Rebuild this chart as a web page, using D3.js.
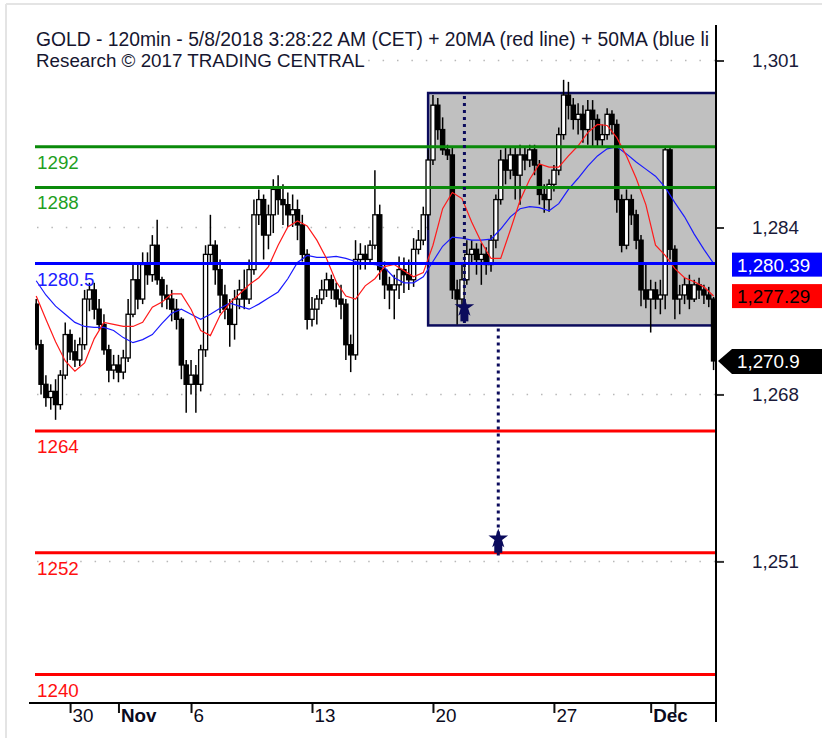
<!DOCTYPE html>
<html>
<head>
<meta charset="utf-8">
<title>GOLD 120min</title>
<script src="https://cdn.jsdelivr.net/npm/d3@7"></script>
<style>
  body { margin: 0; background: #fff; }
  text { font-family: "Liberation Sans", Arial, sans-serif; }
</style>
</head>
<body>
<svg id="mainsvg" width="822" height="738"></svg>
<script>
// 120min bars, time in trading days from Mon 30 Oct (5 bars drawn per day)
const barStartDay = -1.4;
const barStep = 0.2;
const barOpen = [
  1276.5,1272.5,1268.6,1267.3,1267.9,1266.6,1269.5,1273.5,1271.8,1271.0,
  1272.5,1277.0,1277.9,1276.0,1274.5,1272.0,1270.0,1270.5,1269.8,1271.2,
  1275.5,1278.9,1277.0,1280.4,1279.4,1282.3,1278.9,1277.4,1277.0,1276.0,
  1275.0,1270.5,1268.6,1269.5,1268.6,1272.0,1281.4,1282.3,1279.9,1277.4,
  1276.0,1274.5,1277.0,1277.9,1277.0,1279.9,1285.3,1286.8,1283.3,1285.3,
  1287.8,1286.8,1286.3,1285.3,1285.8,1284.3,1281.4,1275.0,1276.0,1277.0,
  1277.9,1278.9,1277.9,1277.0,1276.5,1272.5,1271.5,1280.9,1281.4,1280.9,
  1282.3,1285.3,1279.9,1278.4,1277.9,1278.4,1279.9,1279.4,1278.9,1281.9,
  1282.8,1285.3,1290.7,1296.1,1293.7,1291.7,1291.2,1277.9,1277.0,1278.9,
  1281.4,1281.9,1280.9,1281.4,1280.4,1282.8,1286.8,1290.7,1289.7,1291.2,
  1289.2,1291.2,1290.7,1291.7,1290.2,1287.3,1286.8,1288.3,1289.7,1293.2,
  1297.1,1296.1,1294.7,1295.2,1293.7,1295.6,1294.7,1292.7,1293.2,1295.2,
  1294.2,1286.8,1282.3,1286.8,1285.3,1282.8,1277.9,1277.0,1277.9,1277.0,
  1277.4,1291.7,1281.9,1277.0,1277.4,1278.4,1277.0,1278.4,1277.9,1277.4,
  1277.0
];
const barHigh = [
  1277.0,1273.0,1269.5,1268.6,1269.1,1270.0,1274.7,1274.0,1273.0,1273.2,
  1277.9,1278.6,1278.6,1277.0,1275.5,1272.5,1271.5,1271.5,1272.0,1277.0,
  1280.4,1280.4,1281.6,1281.6,1283.3,1284.8,1279.2,1278.4,1277.9,1277.0,
  1275.2,1271.0,1271.0,1270.5,1272.5,1282.3,1285.3,1282.8,1280.9,1278.4,
  1277.0,1277.9,1278.9,1279.9,1280.9,1286.8,1287.8,1287.3,1286.3,1288.8,
  1289.2,1288.3,1287.5,1287.3,1286.8,1285.3,1281.9,1277.2,1277.4,1278.9,
  1279.6,1279.4,1278.6,1278.4,1277.0,1273.5,1282.8,1282.5,1282.3,1282.8,
  1289.7,1286.3,1280.7,1279.2,1279.4,1281.2,1281.1,1280.9,1283.0,1283.8,
  1286.1,1291.7,1297.1,1296.8,1294.9,1292.2,1292.0,1278.9,1280.4,1282.8,
  1282.8,1282.5,1282.5,1282.1,1283.3,1287.3,1291.7,1292.0,1292.0,1291.9,
  1292.2,1292.0,1292.2,1292.2,1290.7,1288.3,1288.8,1290.2,1293.9,1298.6,
  1298.4,1296.8,1296.3,1296.1,1296.6,1296.6,1295.2,1294.2,1295.8,1295.6,
  1294.7,1287.3,1287.8,1287.3,1285.8,1283.3,1280.4,1278.9,1278.7,1278.9,
  1292.0,1291.9,1282.3,1278.4,1279.1,1279.4,1278.9,1279.1,1278.4,1278.2,
  1277.2
];
const barLow = [
  1272.0,1267.6,1266.4,1266.1,1265.1,1266.1,1269.1,1271.0,1270.3,1270.4,
  1272.0,1275.8,1275.0,1274.0,1271.5,1268.8,1269.1,1268.8,1269.1,1270.8,
  1275.2,1276.0,1276.5,1278.4,1278.7,1278.4,1276.2,1276.0,1274.8,1274.0,
  1269.1,1265.8,1267.6,1265.8,1267.9,1271.3,1280.6,1278.4,1275.6,1275.0,
  1272.3,1273.0,1276.0,1276.0,1276.5,1279.4,1284.3,1280.9,1281.9,1283.5,
  1285.3,1284.3,1284.1,1284.1,1282.8,1280.7,1274.0,1274.3,1274.5,1276.5,
  1277.2,1277.0,1276.2,1275.0,1271.0,1269.8,1271.0,1279.9,1279.9,1280.4,
  1281.9,1278.9,1277.0,1276.0,1275.0,1277.0,1277.6,1277.9,1278.2,1281.4,
  1282.3,1283.8,1290.2,1292.7,1291.2,1290.7,1277.0,1274.5,1276.0,1278.4,
  1280.4,1279.4,1278.4,1279.4,1279.7,1282.0,1286.3,1288.3,1288.8,1286.8,
  1286.3,1289.7,1290.0,1289.2,1286.3,1285.5,1285.6,1287.6,1289.2,1292.7,
  1294.7,1293.7,1293.2,1292.4,1292.2,1292.0,1292.0,1292.0,1292.7,1293.2,
  1285.5,1281.6,1281.9,1284.3,1281.9,1276.3,1276.1,1273.7,1276.0,1275.5,
  1276.0,1280.9,1275.0,1275.5,1276.5,1276.0,1276.7,1277.0,1276.5,1276.2,
  1270.0
];
const barClose = [
  1272.5,1268.6,1267.3,1267.9,1266.6,1269.5,1273.5,1271.8,1271.0,1272.5,
  1277.0,1277.9,1276.0,1274.5,1272.0,1270.0,1270.5,1269.8,1271.2,1275.5,
  1278.9,1277.0,1280.4,1279.4,1282.3,1278.9,1277.4,1277.0,1276.0,1275.0,
  1270.5,1268.6,1269.5,1268.6,1272.0,1281.4,1282.3,1279.9,1277.4,1276.0,
  1274.5,1277.0,1277.9,1277.0,1279.9,1285.3,1286.8,1283.3,1285.3,1287.8,
  1286.8,1286.3,1285.3,1285.8,1284.3,1281.4,1275.0,1276.0,1277.0,1277.9,
  1278.9,1277.9,1277.0,1276.5,1272.5,1271.5,1280.9,1281.4,1280.9,1282.3,
  1285.3,1279.9,1278.4,1277.9,1278.4,1279.9,1279.4,1278.9,1281.9,1282.8,
  1285.3,1290.7,1296.1,1293.7,1291.7,1291.2,1277.9,1277.0,1278.9,1281.4,
  1281.9,1280.9,1281.4,1280.4,1282.8,1286.8,1290.7,1289.7,1291.2,1289.2,
  1291.2,1290.7,1291.7,1290.2,1287.3,1286.8,1288.3,1289.7,1293.2,1297.1,
  1296.1,1294.7,1295.2,1293.7,1295.6,1294.7,1292.7,1293.2,1295.2,1294.2,
  1286.8,1282.3,1286.8,1285.3,1282.8,1277.9,1277.0,1277.9,1277.0,1277.4,
  1291.7,1281.9,1277.0,1277.4,1278.4,1277.0,1278.4,1277.9,1277.4,1277.0,
  1270.9
];

// moving averages, one value every 0.4 day
const maStartDay = -1.4;
const maStep = 0.4;
const ma20 = [
  1277.3,1275.0,1272.8,1270.9,1269.9,1270.7,1273.1,1274.7,1274.5,1274.3,
  1274.3,1274.7,1276.2,1276.7,1277.5,1277.5,1276.0,1273.9,1273.4,1275.4,
  1276.6,1277.5,1278.4,1279.1,1280.2,1282.3,1284.1,1284.7,1284.2,1282.8,
  1281.0,1278.7,1277.3,1277.0,1278.3,1279.0,1280.2,1280.4,1279.8,1279.2,
  1279.6,1282.3,1285.9,1287.5,1286.9,1284.6,1282.6,1281.0,1281.0,1283.8,
  1286.7,1288.8,1290.3,1290.0,1290.0,1291.1,1292.1,1293.4,1294.2,1294.1,
  1292.9,1291.1,1288.9,1286.3,1282.3,1281.3,1280.0,1279.1,1278.7,1278.2,1277.3
];
const ma50 = [
  1278.8,1277.4,1276.3,1275.5,1274.7,1274.3,1274.2,1274.2,1273.9,1273.2,
  1272.7,1273.0,1273.5,1274.6,1275.6,1276.0,1275.5,1275.0,1275.5,1276.1,
  1276.6,1276.3,1276.0,1276.5,1277.1,1277.7,1279.0,1280.6,1281.3,1281.1,
  1281.1,1281.2,1281.0,1280.7,1280.5,1280.4,1280.1,1279.1,1278.6,1278.6,
  1279.2,1280.7,1282.2,1283.1,1283.0,1282.8,1282.8,1282.9,1283.9,1285.1,
  1285.9,1286.1,1286.0,1285.7,1286.4,1287.8,1288.9,1290.1,1291.1,1291.8,
  1292.0,1291.3,1290.5,1289.8,1289.1,1288.0,1286.5,1285.1,1283.4,1281.9,1280.5
];

// horizontal levels
const levelValues = [1292, 1288, 1280.5, 1264, 1252, 1240];
const levelKinds = ['resistance', 'resistance', 'pivot', 'support', 'support', 'support'];

// consolidation box and projected targets
const boxStartDay = 14.8;
const boxTop = 1297.3;
const boxBottom = 1274.4;
const targetDays = [16.3, 17.7];
const targetFrom = [1297.3, 1274.4];
const targetTo = [1274.8, 1252.0];

// axes
const xTickDays = [0, 2, 5, 10, 15, 20, 24, 25];
const xTickLabels = ['30', 'Nov', '6', '13', '20', '27', 'Dec', ''];
const yTickValues = [1300.5, 1284.05, 1267.6, 1251.15];
const yTickLabels = ['1,301', '1,284', '1,268', '1,251'];

// last values shown on the price scale
const tagValues = [1280.39, 1277.29, 1270.9];
const tagLabels = ['1,280.39', '1,277.29', '1,270.9'];

const titleLines = [
  'GOLD - 120min - 5/8/2018 3:28:22 AM (CET) + 20MA (red line) + 50MA (blue line)',
  'Research \u00a9 2017 TRADING CENTRAL'
];

const svg = d3.select('#mainsvg');
const plot = { left: 35, right: 716, top: 25, bottom: 703 };
const fontSize = 18.8;

const xScale = d3.scaleLinear().domain([-1.45, 26.7]).range([plot.left, plot.right]);
const yScale = d3.scaleLinear().domain([1237.2, 1304.0]).range([plot.bottom, plot.top]);

const kindColor = { resistance: '#0a8a0a', pivot: '#0000ff', support: '#ff0000' };
const kindText = { resistance: '#1f9f1f', pivot: '#2020ff', support: '#ff1010' };
const navy = '#0b0b5c';

// light frame
svg.append('line').attr('x1', 6).attr('x2', 822).attr('y1', 4).attr('y2', 4)
  .attr('stroke', '#e4e4e4').attr('stroke-width', 2);
svg.append('line').attr('x1', 6).attr('x2', 6).attr('y1', 4).attr('y2', 738)
  .attr('stroke', '#e4e4e4').attr('stroke-width', 2);

svg.append('defs').append('clipPath').attr('id', 'plotclip')
  .append('rect').attr('x', plot.left).attr('y', plot.top)
  .attr('width', plot.right - plot.left).attr('height', plot.bottom - plot.top);

const g = svg.append('g').attr('clip-path', 'url(#plotclip)');

// grid dots
g.selectAll('.grid').data(yTickValues).enter().append('line')
  .attr('x1', plot.left + 2).attr('x2', plot.right)
  .attr('y1', d => yScale(d)).attr('y2', d => yScale(d))
  .attr('stroke', '#b8b8b8').attr('stroke-width', 1.5)
  .attr('stroke-dasharray', '1.5,12.9');

// box
const bx = xScale(boxStartDay);
g.append('rect')
  .attr('x', bx).attr('y', yScale(boxTop))
  .attr('width', plot.right - bx + 4)
  .attr('height', yScale(boxBottom) - yScale(boxTop))
  .attr('fill', '#c0c0c0').attr('stroke', navy).attr('stroke-width', 2.5);

// candles
const bars = barClose.map((c, i) => ({
  t: barStartDay + i * barStep, o: barOpen[i], h: barHigh[i], l: barLow[i], c: c
}));
const candle = g.selectAll('.candle').data(bars).enter().append('g');
candle.append('line')
  .attr('x1', d => xScale(d.t)).attr('x2', d => xScale(d.t))
  .attr('y1', d => yScale(d.h)).attr('y2', d => yScale(d.l))
  .attr('stroke', '#000').attr('stroke-width', 1.5);
candle.append('rect')
  .attr('x', d => xScale(d.t) - 2.1).attr('width', 4.2)
  .attr('y', d => yScale(Math.max(d.o, d.c)))
  .attr('height', d => Math.max(1.5, Math.abs(yScale(d.o) - yScale(d.c))))
  .attr('fill', d => d.c >= d.o ? '#fff' : '#000')
  .attr('stroke', '#000').attr('stroke-width', 1.3);

// moving averages
const maLine = d3.line()
  .x((d, i) => xScale(maStartDay + i * maStep))
  .y(d => yScale(d));
g.append('path').datum(ma50).attr('d', maLine)
  .attr('fill', 'none').attr('stroke', '#1a1aff').attr('stroke-width', 1.2);
g.append('path').datum(ma20).attr('d', maLine)
  .attr('fill', 'none').attr('stroke', '#ff1a1a').attr('stroke-width', 1.2);

// levels
levelValues.forEach((v, i) => {
  g.append('line')
    .attr('x1', plot.left).attr('x2', plot.right)
    .attr('y1', yScale(v)).attr('y2', yScale(v))
    .attr('stroke', kindColor[levelKinds[i]]).attr('stroke-width', 3);
  svg.append('text').text(String(v))
    .attr('x', plot.left + 2).attr('y', yScale(v) + 22)
    .attr('font-size', fontSize).attr('fill', kindText[levelKinds[i]]);
});

// targets
targetDays.forEach((d, i) => {
  const x = xScale(d);
  const y2 = yScale(targetTo[i]);
  svg.append('line')
    .attr('x1', x).attr('x2', x)
    .attr('y1', yScale(targetFrom[i]) + 3).attr('y2', y2 + 3)
    .attr('stroke', navy).attr('stroke-width', 3)
    .attr('stroke-dasharray', '3,4');
  svg.append('path')
    .attr('d', d3.symbol().type(d3.symbolStar).size(120)())
    .attr('transform', `translate(${x},${y2 - 14})`)
    .attr('fill', navy);
  svg.append('rect')
    .attr('x', x - 4).attr('y', y2 - 11).attr('width', 8).attr('height', 11)
    .attr('fill', navy);
});

// title, cut off at the right like the original
svg.select('defs').append('clipPath').attr('id', 'titleclip')
  .append('rect').attr('x', 30).attr('y', 20).attr('width', 680).attr('height', 60);
const tg = svg.append('g').attr('clip-path', 'url(#titleclip)');
titleLines.forEach((s, i) => {
  const t = tg.append('text').text(s)
    .attr('x', 36).attr('y', 46 + i * 21)
    .attr('font-size', i === 0 ? 19.3 : fontSize).attr('fill', '#161630');
  const bb = t.node().getBBox();
  tg.insert('rect', 'text')
    .attr('x', bb.x - 1).attr('y', bb.y).attr('width', bb.width + 2).attr('height', bb.height)
    .attr('fill', '#fff');
});

// axes
const yAxis = d3.axisRight(yScale)
  .tickValues(yTickValues)
  .tickFormat((d, i) => yTickLabels[i])
  .tickSize(8).tickPadding(28);
const yAxisG = svg.append('g').attr('transform', `translate(${plot.right},0)`).call(yAxis);
yAxisG.select('.domain').remove();
yAxisG.selectAll('.tick line').attr('stroke', '#333').attr('stroke-width', 2);
yAxisG.selectAll('.tick text').attr('font-size', fontSize).attr('fill', '#1a1a3a')
  .attr('font-family', '"Liberation Sans", Arial, sans-serif');

const xAxis = d3.axisBottom(xScale)
  .tickValues(xTickDays)
  .tickFormat((d, i) => xTickLabels[i])
  .tickSize(10);
const xAxisG = svg.append('g').attr('transform', `translate(0,${plot.bottom})`).call(xAxis);
xAxisG.select('.domain').remove();
xAxisG.selectAll('.tick line').attr('stroke', '#111').attr('stroke-width', 2);
xAxisG.selectAll('.tick text')
  .attr('text-anchor', 'start').attr('x', 2).attr('y', 19).attr('dy', 0)
  .attr('font-size', fontSize).attr('fill', '#0a0a20')
  .attr('font-family', '"Liberation Sans", Arial, sans-serif')
  .attr('font-weight', (d, i) => /[A-Za-z]/.test(xTickLabels[i]) ? 'bold' : 'normal');

svg.append('line')
  .attr('x1', 29).attr('x2', plot.right + 1)
  .attr('y1', plot.bottom).attr('y2', plot.bottom)
  .attr('stroke', '#000').attr('stroke-width', 2);
svg.append('line')
  .attr('x1', plot.right).attr('x2', plot.right)
  .attr('y1', plot.top).attr('y2', 722)
  .attr('stroke', '#000').attr('stroke-width', 2);

// price tags
const tagFill = ['#0000ff', '#ff0000', '#000'];
const tagInk = ['#fff', '#000', '#fff'];
tagValues.forEach((v, i) => {
  const y = yScale(v);
  if (i === 2) {
    svg.append('path')
      .attr('d', `M${plot.right + 2},${y} L${plot.right + 16},${y - 12} L822,${y - 12} L822,${y + 13} L${plot.right + 16},${y + 13} Z`)
      .attr('fill', tagFill[i]);
  } else {
    svg.append('rect')
      .attr('x', 732).attr('y', y - 12).attr('width', 92).attr('height', 24)
      .attr('fill', tagFill[i]);
  }
  svg.append('text').text(tagLabels[i])
    .attr('x', 737).attr('y', y + 7)
    .attr('font-size', fontSize).attr('fill', tagInk[i]);
});
</script>
</body>
</html>
